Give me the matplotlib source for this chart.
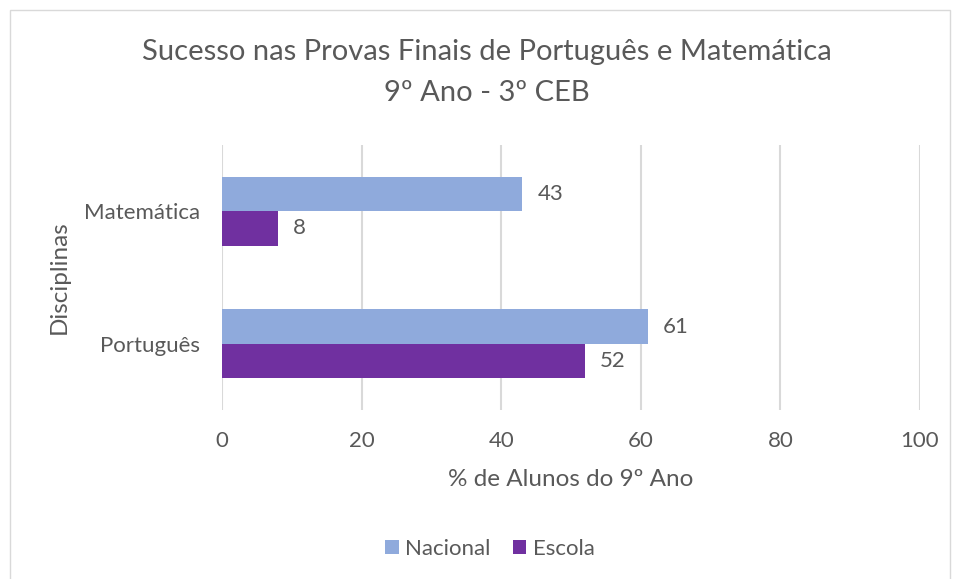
from matplotlib import pyplot as plt
from matplotlib.patches import Rectangle
import numpy as np

disciplinas = ['Português', 'Matemática']
nacional = [61, 43]
escola = [52, 8]
x_ticks = [0, 20, 40, 60, 80, 100]

cor_nacional = '#8FAADC'
cor_escola = '#7030A0'
cinza = '#595959'

plt.rcParams['font.family'] = ['Lato', 'DejaVu Sans']

fig = plt.figure(figsize=(9.54, 5.79), dpi=100)
ax = fig.add_axes([222/954, 1-410/579, (920-222)/954, (410-145)/579])

y = np.arange(len(disciplinas))
h = 0.26
b1 = ax.barh(y + h/2, nacional, height=h, color=cor_nacional, label='Nacional')
b2 = ax.barh(y - h/2, escola, height=h, color=cor_escola, label='Escola')

for bars in (b1, b2):
    for bar in bars:
        w = bar.get_width()
        ax.annotate(str(int(w)), (w, bar.get_y() + bar.get_height()/2),
                    xytext=(11, 0), textcoords='offset points', va='center', ha='left',
                    fontsize=16, color=cinza)

ax.set_xlim(0, 100)
ax.set_ylim(-0.5, 1.5)
ax.set_xticks(x_ticks)
ax.set_yticks(y)
ax.set_yticklabels(disciplinas)
ax.tick_params(axis='both', length=0, labelsize=16, colors=cinza)
ax.tick_params(axis='x', pad=15)
ax.tick_params(axis='y', pad=16)
ax.grid(axis='x', color='#D9D9D9', linewidth=1.5)
ax.set_axisbelow(True)
for s in ax.spines.values():
    s.set_visible(False)

ax.set_xlabel('% de Alunos do 9º Ano', fontsize=17.5, color=cinza, labelpad=13)
ax.set_ylabel('Disciplinas', fontsize=17.5, color=cinza, labelpad=10)

fig.text(487/954, 1-52/579, 'Sucesso nas Provas Finais de Português e Matemática',
         ha='center', va='center', fontsize=21, color=cinza)
fig.text(487/954, 1-93/579, '9º Ano - 3º CEB',
         ha='center', va='center', fontsize=21, color=cinza)

handles = [b1, b2]
fig.legend(handles, ['Nacional', 'Escola'], loc='center', bbox_to_anchor=(490/954, 1-549/579),
           ncol=2, frameon=False, fontsize=16, labelcolor=cinza,
           handlelength=0.6, handleheight=0.6, handletextpad=0.3, columnspacing=1.0)

fig.patches.append(Rectangle((10/954, -0.01), 940/954, 1-10/579+0.01, transform=fig.transFigure,
                             fill=False, edgecolor='#D9D9D9', linewidth=1))

fig.savefig('out.png', dpi=100)
